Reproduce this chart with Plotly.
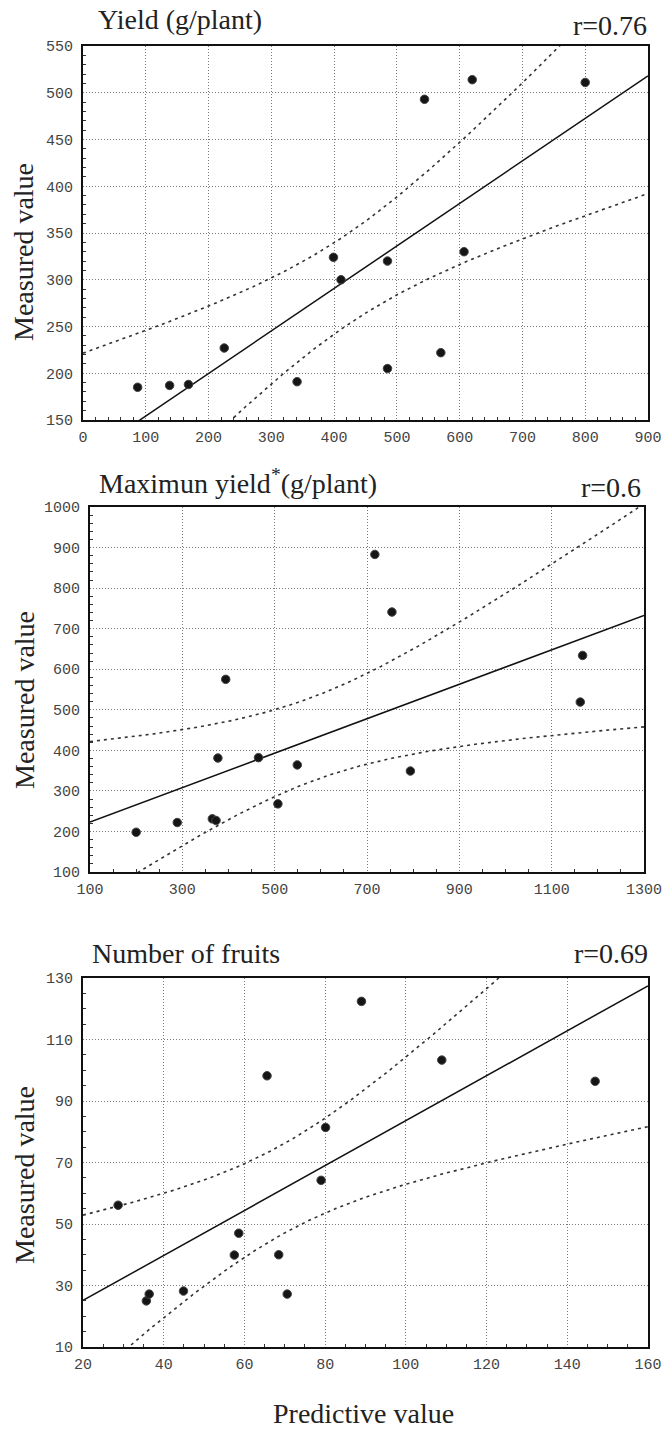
import numpy as np
import plotly.graph_objects as go

# ---------------- data ----------------
# Panel 1: Yield (g/plant)
yield_pred = [87, 138, 168, 225, 341, 399, 411, 485, 485, 544, 570, 607, 620, 800]
yield_meas = [185, 187, 188, 227, 191, 324, 300, 320, 205, 493, 222, 330, 514, 511]

# Panel 2: Maximum yield (g/plant)
maxy_pred = [200, 289, 365, 373, 377, 394, 465, 507, 549, 717, 754, 794, 1162, 1167]
maxy_meas = [198, 222, 231, 227, 381, 575, 382, 268, 364, 883, 741, 349, 519, 634]

# Panel 3: Number of fruits
fruit_pred = [28.7, 35.7, 36.4, 44.9, 57.5, 58.6, 65.6, 68.5, 70.6, 79.0, 80.1, 89.0, 108.9, 146.9]
fruit_meas = [56.1, 25.0, 27.2, 28.2, 39.9, 47.0, 98.2, 40.0, 27.2, 64.2, 81.4, 122.4, 103.3, 96.4]

panel_titles = ["Yield (g/plant)", "Maximun yield<sup>*</sup>(g/plant)", "Number of fruits"]
r_labels = ["r=0.76", "r=0.6", "r=0.69"]
x_ranges = [[0, 900], [100, 1300], [20, 160]]
y_ranges = [[150, 550], [100, 1000], [10, 130]]
x_dticks = [100, 200, 20]
y_dticks = [50, 100, 20]
y_axis_title = "Measured value"
x_axis_title = "Predictive value"

# two-sided 95% Student t critical values by degrees of freedom
T_CRIT_975 = {10: 2.228, 11: 2.201, 12: 2.179, 13: 2.160, 14: 2.145, 15: 2.131}

# ---------------- layout geometry (window pixels) ----------------
W, H = 664, 1430
plot_px = [  # left, right, top, bottom
    (83, 648, 46, 420),
    (90, 644, 507, 872),
    (83, 648, 978, 1347),
]
title_px = [(96, 20), (97, 481), (90, 953)]
r_px = [(649, 25), (643, 487), (650, 953)]
ylab_px = [252, 700, 1175]

def px_x(p):
    return p / W

def px_y(p):
    return 1 - p / H

datasets = [(yield_pred, yield_meas), (maxy_pred, maxy_meas), (fruit_pred, fruit_meas)]

fig = go.Figure()
annotations = []
serif = "Liberation Serif, Times New Roman, serif"
mono = "Liberation Mono, DejaVu Sans Mono, monospace"
TXT = "#222222"

for i, (xs, ys) in enumerate(datasets):
    x = np.array(xs, dtype=float)
    y = np.array(ys, dtype=float)
    n = len(x)
    slope, intercept = np.polyfit(x, y, 1)
    resid = y - (slope * x + intercept)
    s = np.sqrt(np.sum(resid ** 2) / (n - 2))
    sxx = np.sum((x - x.mean()) ** 2)
    t = T_CRIT_975[n - 2]
    xl = np.linspace(x_ranges[i][0], x_ranges[i][1], 300)
    yl = slope * xl + intercept
    half = t * s * np.sqrt(1.0 / n + (xl - x.mean()) ** 2 / sxx)

    k = "" if i == 0 else str(i + 1)
    xa, ya = "x" + k, "y" + k

    for band in (yl + half, yl - half):
        fig.add_trace(go.Scatter(x=xl, y=band, mode="lines", xaxis=xa, yaxis=ya,
                                 line=dict(color="#333333", width=1.6, dash="3px,4px"),
                                 showlegend=False, hoverinfo="skip"))
    fig.add_trace(go.Scatter(x=xl, y=yl, mode="lines", xaxis=xa, yaxis=ya,
                             line=dict(color="#111111", width=1.5),
                             showlegend=False, hoverinfo="skip"))
    fig.add_trace(go.Scatter(x=x, y=y, mode="markers", xaxis=xa, yaxis=ya,
                             marker=dict(color="#151515", size=8.5,
                                         line=dict(color="#444444", width=1)),
                             showlegend=False))

    L, R, T, B = plot_px[i]
    common = dict(showline=True, linecolor="#111111", linewidth=2, mirror=True,
                  showgrid=True, gridcolor="#7a7a7a", gridwidth=1, griddash="1px,2px",
                  zeroline=False, ticks="", automargin=False, ticklabeloverflow="allow",
                  tickfont=dict(family=mono, size=15, color="#444444"),
                  minor=dict(ticks="inside", ticklen=3, tickcolor="#333333", nticks=5,
                             showgrid=False))
    fig.layout["xaxis" + k] = dict(common, domain=[px_x(L), px_x(R)], range=x_ranges[i],
                                   tick0=x_ranges[i][0], dtick=x_dticks[i],
                                   anchor=ya, ticklabelstandoff=2)
    fig.layout["yaxis" + k] = dict(common, domain=[px_y(B), px_y(T)], range=y_ranges[i],
                                   tick0=y_ranges[i][0], dtick=y_dticks[i],
                                   anchor=xa, ticklabelstandoff=5)

    tx, ty = title_px[i]
    annotations.append(dict(text=panel_titles[i], x=px_x(tx), y=px_y(ty), xref="paper", yref="paper",
                            xanchor="left", yanchor="middle", showarrow=False,
                            font=dict(family=serif, size=28, color=TXT)))
    rx, ry = r_px[i]
    annotations.append(dict(text=r_labels[i], x=px_x(rx), y=px_y(ry), xref="paper", yref="paper",
                            xanchor="right", yanchor="middle", showarrow=False,
                            font=dict(family=serif, size=28, color=TXT)))
    annotations.append(dict(text=y_axis_title, x=px_x(24), y=px_y(ylab_px[i]), xref="paper", yref="paper",
                            xanchor="center", yanchor="middle", textangle=-90, showarrow=False,
                            font=dict(family=serif, size=28, color=TXT)))

annotations.append(dict(text=x_axis_title, x=px_x(363), y=px_y(1413), xref="paper", yref="paper",
                        xanchor="center", yanchor="middle", showarrow=False,
                        font=dict(family=serif, size=28, color=TXT)))

fig.update_layout(width=W, height=H, margin=dict(l=0, r=0, t=0, b=0),
                  paper_bgcolor="white", plot_bgcolor="white",
                  annotations=annotations, showlegend=False)

fig.write_html("out.html",
               config={"displayModeBar": False, "staticPlot": True},
               post_script="document.body.style.margin='0';document.body.style.overflow='hidden';")
